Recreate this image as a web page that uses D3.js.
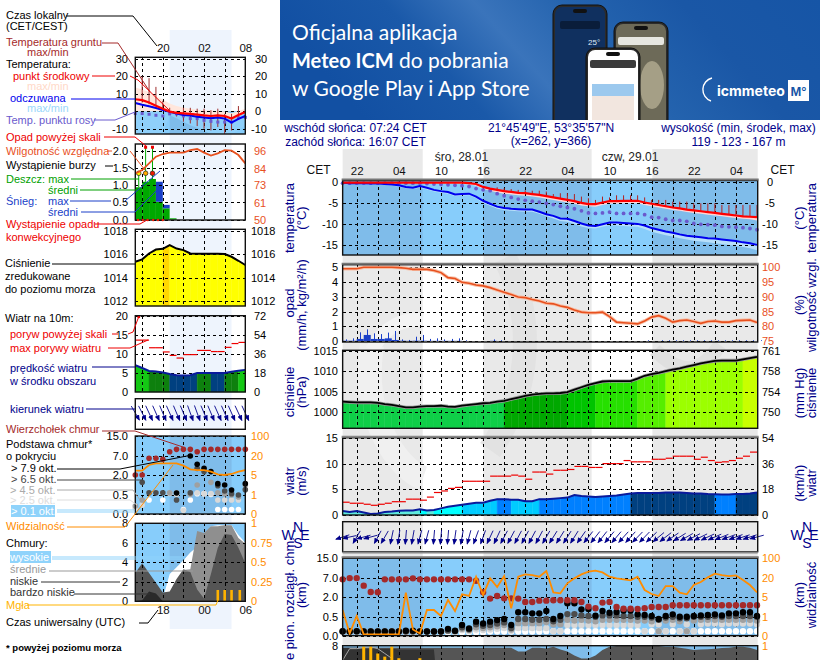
<!DOCTYPE html>
<html lang="pl">
<head>
<meta charset="UTF-8" />
<title>Meteogram ICM</title>
<script src="https://cdnjs.cloudflare.com/ajax/libs/d3/7.8.5/d3.min.js"></script>
<style>
  html, body { margin: 0; padding: 0; background: #fff; overflow: hidden; }
  svg { display: block; font-family: "Liberation Sans", Arial, sans-serif; }
</style>
</head>
<body>
<svg id="chart" width="820" height="660"></svg>
<script>
// ---- main meteogram, one value per hour, hour 0 = Tue 20:00 CET
const tempMid = [-0.1,-0.1,-0.1,-0.1,-0.1,-0.1,-0.1,-0.1,-0.1,-0.1,-0.1,-0.1,-0.1,-0.1,-0.1,-0.1,-0.1,-0.1,-0.2,-0.4,-1.1,-1.5,-1.8,-2.1,-2.3,-2.5,-2.6,-2.8,-3.0,-3.3,-3.6,-3.9,-4.2,-4.5,-4.9,-5.2,-5.2,-4.8,-4.5,-4.5,-4.4,-4.4,-4.4,-4.8,-5.1,-5.4,-5.7,-6.0,-6.2,-6.5,-6.7,-6.9,-7.1,-7.3,-7.5,-7.7,-7.9,-8.1,-8.2,-8.3];
const tempLow = [-0.3,-0.3,-0.3,-0.3,-0.3,-0.3,-0.3,-0.3,-0.3,-0.3,-0.3,-0.3,-0.3,-0.3,-0.3,-0.3,-0.3,-0.4,-0.5,-0.8,-1.6,-2,-2.4,-2.7,-2.9,-3.1,-3.2,-3.4,-3.6,-3.9,-4.2,-4.5,-4.8,-5.1,-5.5,-5.7,-5.8,-5.4,-5.1,-5.1,-5,-5,-5,-5.4,-5.7,-6,-6.3,-6.6,-6.8,-7.1,-7.3,-7.5,-7.7,-7.9,-8.1,-8.3,-8.5,-8.7,-8.8,-9.1];
const feels = [-0.1,-0.2,-0.2,-0.2,-0.3,-0.3,-0.4,-0.5,-0.7,-1.1,-1.3,-0.9,-1.3,-1.8,-2.1,-2.3,-2.9,-2.8,-2.7,-3.4,-4.4,-5.1,-5.8,-6.1,-6.3,-6.4,-6.5,-6.5,-7,-7.6,-8,-8.6,-8.7,-9.2,-9.8,-10.3,-10.4,-10,-9.6,-9.6,-9.7,-9.8,-9.9,-10.3,-10.9,-11.3,-11.7,-12,-12.4,-12.7,-12.9,-13.1,-13.3,-13.4,-13.6,-13.8,-14,-14.3,-14.5,-14.9];
const feelsLow = [-0.3,-0.4,-0.4,-0.4,-0.5,-0.5,-0.6,-0.8,-1,-1.4,-1.6,-1.3,-1.7,-2.2,-2.5,-2.7,-3.3,-3.2,-3.1,-3.8,-4.9,-5.6,-6.3,-6.6,-6.8,-6.9,-7,-7,-7.5,-8.1,-8.6,-9.2,-9.4,-9.9,-10.5,-10.9,-11,-10.6,-10.2,-10.3,-10.4,-10.5,-10.6,-11.1,-11.8,-12.2,-12.6,-12.9,-13.3,-13.6,-13.9,-14.1,-14.3,-14.5,-14.7,-14.9,-15.1,-15.4,-15.7,-16.2];
const dewPoint = [-0.2,-0.2,-0.2,-0.2,-0.2,-0.2,-0.2,-0.2,-0.2,-0.2,-0.2,-0.2,-0.3,-0.4,-0.5,-0.6,-0.7,-0.8,-1,-1.5,-1.8,-2,-2.7,-3.2,-3.6,-4,-4.3,-4.5,-4.7,-5,-5.3,-5.7,-6,-6.3,-6.8,-7.3,-7.4,-7.3,-7.1,-7.4,-7.4,-7.4,-7.4,-7.7,-8.3,-8.4,-8.8,-9.1,-9.1,-9.3,-9.8,-10,-10.1,-10.2,-10.5,-10.6,-10.7,-10.8,-11,-11.3];
const groundMax = [null,null,null,null,null,null,null,null,null,null,null,null,null,null,null,null,null,null,null,null,null,null,-1.2,-1.4,-1.6,-1.8,-1.9,-2,-2,-2.2,-2.8,-2.6,-2.6,-2.8,-3.4,-3.8,-4.2,-3.4,-3.6,-3.1,-3.1,-3.1,-3.1,-3.6,-4.2,-4.2,-4.2,-4.6,-4.6,-4.6,-5,-5,-5,-5,-5.4,-5.4,-5.4,-5.4,-5.4,-5.4];

const snowAvg = [0.02,0.02,0.14,0.41,0.14,0.14,0.18,0.07,0.02,0.01,0.02,0.02,0.01,0.01,0.01,0.01,0.01,0,0,0,0,0.01];
const snowMax = [0.11,0.18,0.59,0.79,0.52,0.47,0.57,0.68,0.11,0.07,0.29,0.41,0.14,0.18,0.11,0.14,0.18,0.05,0,0,0,0.11,0.05,0,0,0,0,0,0,0,0,0,0,0,0,0,0,0,0,0,0,0,0,0.05,0,0.05,0.05,0.05,0.05,0.05,0.05,0.05,0.05,0.05,0.05,0.05,0.05,0.05,0.05,0.05];
const humidity = [99.5,99.5,99.5,100,100,100,100,100,99.9,99.7,99.3,99.3,99.3,98.9,98.2,96.5,96.2,94.9,94.6,94,93.7,93.1,92.3,91.5,90.8,89.9,89.7,89.1,88.6,87.8,87.6,86.9,86.4,85.5,84.8,84.6,84.6,84.8,83.3,81.4,81.2,81,80.8,81.8,83.1,83.6,82.7,81.4,81.9,82.1,81.6,81,81.6,81.8,81.4,81.4,81.9,82,82.1,81.3];

const pressure = [1002.6,1002.5,1002.4,1002.4,1002.4,1002.3,1002.0,1001.8,1001.5,1001.2,1001.2,1001.4,1001.5,1001.5,1001.6,1001.4,1001.3,1001.6,1001.8,1002.0,1002.2,1002.3,1002.6,1002.8,1003.2,1003.6,1004.0,1004.3,1004.5,1004.6,1004.6,1004.7,1004.9,1005.5,1006.1,1006.7,1007.1,1007.5,1007.6,1007.6,1007.6,1007.6,1008.2,1008.9,1009.3,1009.6,1010.0,1010.4,1010.7,1011.1,1011.5,1011.9,1012.2,1012.5,1012.6,1012.6,1012.6,1012.9,1013.2,1013.5];
const pressureSteps = [1002.7,1004.9,1006.8,1008.2,1010,1012.7];
const pressureColors = ["#0fcf48","#00a800","#00c400","#26e000","#55ee00","#9cff00","#c8ff00"];

const windSpeed = [0.8,0.6,0.8,0.5,0.2,0.3,0.6,0.7,0.85,0.9,0.9,1.1,0.9,1,1.3,1.6,1.8,2,2.2,2.4,2.4,2.8,3.1,3.1,3,3,2.7,2.7,3.1,3.1,3.2,3.3,3.4,3.9,3.7,3.6,3.5,3.6,3.7,3.8,4,4.2,4.3,4.3,4.3,4.3,4.4,4.4,4.4,4.3,4.2,4.2,4.1,4.05,4,4,4.1,4.1,4.2,4.4];
const windGust = [2.5,2.3,2.3,2.1,1.9,2.1,2.3,2.6,2.6,3.1,3.1,2.9,3.5,4.4,4.7,5.2,5.4,6.6,6.6,6.6,6.6,7.6,7.6,7.6,7.8,7.6,7,8.4,8.4,8,8.75,8.75,8.9,9.5,9.5,9.3,9.3,10.05,10.05,10.05,10.65,10.4,10.4,10.4,10.9,10.9,11.1,11.5,11.5,11.5,10.9,11.3,10.65,10.3,10.4,10.65,11.1,11.5,12.3];
const windDir = [72,78,30,75,75,28,30,12,8,5,10,15,15,5,5,5,8,10,15,20,20,25,25,28,28,28,28,28,28,30,32,32,32,32,35,38,38,38,40,40,42,42,44,44,46,50,52,55,58,60,62,64,65,66,68,70,70,72,72,75];
const windSteps = [1,2,3.05,4.08];
const windColors = ["#5eeadd","#00ffff","#00ccff","#0080ff","#004080"];

const cloudTop = [6.58,6.9,6.9,4.97,3.36,3.27,6.58,6.58,6.58,6.58,6.83,6.58,6.58,6.58,6.58,6.58,6.58,6.58,6.58,6.24,3.27,1.9,2.34,1.92,1.92,1.9,1.64,1.64,1.74,1.74,1.77,1.77,1.77,1.77,1.64,1.28,1.15,1.59,1.64,1.25,1.12,1.12,1.09,1.15,1.25,1.25,1.25,1.38,1.38,1.38,1.38,1.38,1.38,1.38,1.38,1.38,1.38,1.38,1.38,1.38];
const cloud79 = [0.12,0.11,0.12,0.11,0.11,0.11,0.11,0.11,0.11,0.13,0.13,0.11,0.11,0.11,0.11,0.18,0.13,0.28,0.19,0.37,0.32,0.37,0.41,0.44,0.28,0.84,0.84,0.76,0.76,0.94,0.44,0.55,1.54,1.54,1.07,1.1,0.58,0.94,0.81,0.86,0.97,0.97,0.68,0.63,0.55,0.44,0.55,0.68,0.5,0.5,0.55,0.6,0.63,0.68,0.6,0.76,0.76,0.84,0.84,0.55];
const cloud65 = [0.11,0.11,0.11,0.11,0.11,0.11,0.11,0.11,0.11,0.11,0.11,0.11,0.11,0.11,0.11,0.14,0.12,0.22,0.17,0.3,0.26,0.28,0.32,0.35,0.2,0.44,0.44,0.42,0.42,0.44,0.38,0.42,0.7,0.7,0.6,0.55,0.5,0.6,0.6,0.6,0.55,0.55,0.5,0.5,0.48,0.42,0.48,0.5,0.46,0.46,0.5,0.5,0.5,0.55,0.5,0.55,0.55,0.55,0.55,0.5];
const cloud45 = [0.11,0.11,0.11,0.11,0.11,0.11,0.11,0.11,0.11,0.11,0.11,0.11,0.11,0.11,0.11,0.13,0.12,0.18,0.15,0.22,0.2,0.22,0.25,0.28,0.16,0.33,0.33,0.33,0.33,0.36,0.3,0.3,0.42,0.4,0.42,0.4,0.38,0.42,0.42,0.42,0.42,0.42,0.4,0.4,0.38,0.12,0.4,0.42,0.38,0.12,0.4,0.42,0.42,0.42,0.42,0.42,0.42,0.42,0.42,0.4];
const cloud25 = [0.11,0.11,0.11,0.11,0.11,0.11,0.11,0.11,0.11,0.11,0.11,0.11,0.11,0.11,0.11,0.12,0.11,0.15,0.12,0.16,0.15,0.16,0.18,0.2,0.13,0.2,0.2,0.2,0.2,0.2,0.12,0.12,0.28,0.28,0.28,0.28,0.28,0.28,0.28,0.28,0.28,0.28,0.28,0.12,0.3,0.3,0.12,0.3,0.12,0.3,0.12,0.3,0.32,0.32,0.3,0.32,0.32,0.32,0.32,0.3];
const cloud01 = [0.1,0.1,0.1,0.1,0.1,0.1,0.1,0.1,0.1,0.1,0.1,0.1,0.1,0.1,0.1,0.09,0.1,0.09,0.1,0.09,0.09,0.11,0.11,0.11,0.11,0.11,0.11,0.11,0.11,0.12,0.12,0.12,0.12,0.12,0.12,0.12,0.12,0.12,0.12,0.12,0.12,0.12,0.12,0.12,0.12,0.12,0.12,0.12,0.12,0.12,0.12,0.12,0.12,0.12,0.12,0.12,0.12,0.12,0.12,0.12];
const visibility = [2.38,0.12,1.14,0.07,0.07,0.07,0.07,0.07,0.07,8.56,0.33,0.12,2.38,2.38,1.14,4.45,2.17,7.29,6,24.1,6.78,19.5,12.9,26.9,2.72,24.1,33.8,31,24.1,47.6,8.8,8.05,15.7,19.5,33.8,45,49,42,24.1,19.5,18.7,18,24.1,10.6,7.5,6,13.6,13.6,8.56,7.29,14.4,16.7,21.4,36.5,31,26.9,29.7,18.2,14.4,8.8];

const coverLow = [7.8,7.8,7.8,7.8,7.8,7.8,7.8,7.8,7.8,7.8,7.8,7.8,7.8,7.8,7.8,7.8,7.8,7.8,7.8,7.8,7.8,7.8,7.8,7.8,7.8,7.4,7.4,7.8,7.8,7.72,7.9,7.6,7.4,7,6.7,6.7,7,7.56,7.9,7.96,7.96,7.96,7.96,7.96,7.96,7.96,7.9,7.9,7.8,7.7,7.56,7.6,7.64,7.7,7.76,7.8,7.9,7.9,7.8,7.56];
const coverVeryLow = [7.8,7.8,7.8,7.7,7.7,7.7,7.7,7.7,7.6,7.6,7.6,7.6,7.6,7.6,0];
const coverHigh = [6.5,7.7,7.7,7.8,7.9,7.7,7.2,6.7];
const fogHours = [3,4,5,6,7,8,11];
const fogMain = [0.99,0.99,0.9,0.86,0.99,0.84,0.84];

// ---- short range panel on the left, hour 0 = 16:00 local
const tempMidL = [6.9,6.4,5.0,3.2,1.4,-0.2,-0.9,-1.2,-1.5,-1.9,-2.4,-2.7,-2.3,-2.7,-4.2,-2.2,-0.4];
const tempHighL = [13.6,12.5,11,8.6,6.8,4.5,3,2.2,1.4,0.9,0.4,0.4,0.2,-0.2,-1.2,0.2,1.5];
const tempLowL = [0,0,0,0,0,-0.9,-1.5,-1.8,-2.1,-2.5,-3,-3.3,-2.9,-3.3,-4.8,-2.8,-1];
const feelsL = [4.8,3.8,2.9,1.9,0.7,-0.3,-1.3,-2.1,-2.4,-3.2,-3.6,-4,-3.6,-4.2,-6.5,-4.4,-2.7];
const feelsLowL = [-13,-13,-13,-13,-13,-2.3,-4,-6,-8,-9.5,-11.5,-13,-13,-13,-13,-11,-8];
const dewPointL = [-1.3,-1.3,-1.7,-2.3,-2.7,-1.5,-1.5,-2.7,-4.2,-4.2,-5.2,-5.8,-6.2,-6.2,-6.2,-3.8,-3.5];
const groundMaxL = [null,20,19,14,6,2,0,2,2,1.5,1.5,0.6,1.5,-1.5,-1.5,3,null];
const groundMinL = [null,5,4,3,2,-2,-3,-6,-7,-8.5,-10,-11,-9,-13,-11,-5,null];

const rainAvgL = [0.94,1.1,1.18,0.52,0.33,0.04];
const snowAvgL = [0,0,0,0.58,0.1,0];
const rainMaxL = [1.35,2.1,2.1];
const rainOverL = [0,1,1];
const stormL = [1,2,3];
const stormColors = ["#ffee00","#ffaa00","#ee1c00"];
const convectiveL = [0.4,1.1,1.8,2.6,3.3,4.0];
const humidityL = [80.9,83.1,87.6,92,93.8,94.7,94.7,94.7,96.4,97.1,94.7,92.7,94.2,96.4,96,93.1,87.6];

const pressureL = [1015.38,1015.58,1016.08,1016.42,1016.48,1016.79,1016.5,1016.37,1016.08,1016.05,1016.05,1016.05,1016.05,1016.03,1015.8,1015.46,1015.1];
const windSpeedL = [7,6.3,5.5,5.4,5.1,4.7,4.4,4.3,4.4,5,5,4.95,4.95,5,5.3,5.6,5.8];
const windGustL = [13.6,13.6,11.6,11.6,10.5,9.6,8.9,9.8,9.8,10.9,10.9,10.6,10.6,11.7,12.7,13];
const windDirL = [330,333,335,336,337,336,337,337,340,340,337,337,336,336,336,335,335];

const cloudTopL = [2,2,6.39,6.39,6.12,8.73,9.67,9.67,9.67,8.73,9.67,9.67,9.67,9.67,9.67,9.67,9.67];
const cloud79L = [null,null,null,null,null,null,0.65,null,7,4.8,3.75,2.9,1.35,1.25,0.87,null,1.35];
const cloud65L = [null,1.45,0.66,0.66,0.66,null,0.37,null,0.66,3.75,2.9,null,1.2,0.8,0.6,0.5,0.9];
const cloud45L = [0.21,0.37,null,null,null,0.66,0.66,null,0.55,1.25,null,1.45,0.66,0.6,0.5,0.45,1.25];
const cloud25L = [0.15,0.24,null,null,null,0.62,0.55,0.1,null,0.66,0.6,0.6,0.37,0.37,0.37,0.37,null];
const cloud01L = [null,null,0.37,null,0.37,null,null,0.12,0.37,0.6,0.6,0.55,0.12,0.12,0.12,0.12,null];
const visibilityL = [8.4,8.4,12.9,14.2,14.2,14.2,14.2,12.4,9.5,8.9,8.9,7.6,5.5,5,5.8,7.6,8.9];

const coverHighL = [0,0,0,0,0.3,2.8,3.5,4.2,5,5.6,6.3,7.7,7.8,7.8,7.8,6.8,6];
const coverMidL = [0,0,0,0,0,0,0,3.2,3.3,7.2,7,7.7,7.7,7.8,7.8,6.5,5.9];
const coverLowL = [2.9,3.9,2.9,1.9,0.9,1,2.3,3.3,3,1.2,0.3,2.8,5.5,6.9,6.8,5.5,3.9];
const coverVeryLowL = [0,0.1,1,0.8,0,0,0,0,0,0,0,0,0,0,0,0,0];
const fogHoursL = [12,13,14,15.2];
const fogL = [0.145,0.145,0.145,0.145];

// ---- tick labels
const mainHourTicks = [2,8,14,20,26,32,38,44,50,56];
const mainHourLabels = ["22","04","10","16","22","04","10","16","22","04"];
const leftHourTicks = [4,10,16];
const leftLocalLabels = ["20","02","08"];
const leftUtcLabels = ["18","00","06"];
const heightTicks = [0,0.5,2,7,15];
const heightLabels = ["0.0","0.5","2.0","7.0","15.0"];
const visLabels = ["0","1","5","20","100"];
const pressTicks = [1000,1005,1010,1015];
const pressMmLabels = ["750","754","758","761"];
const windTicks = [0,5,10,15];
const windKmhLabels = ["0","18","36","54"];
const humidLabelsL = ["50","61","73","84","96"];

// ---- colours
const NAVY = "#00008b", ORANGE = "#ff8c00", RH = "#e8501e", DAY = "#87cdfb", NIGHT = "#7fbcea";
const octaColors = ["#ffffff","#d8d8d8","#a0a0a0","#4d4d4d","#000000"];
const TICK_SIZE = 11;

const svg = d3.select("#chart");
const defs = svg.append("defs");
const x = d3.scaleLinear().domain([0, 59.1]).range([342.65, 757.7]);
const xL = d3.scaleLinear().domain([0, 16]).range([135.3, 245.3]);
const crisp = (v) => Math.round(v) + 0.5;
const lineOf = (xs, ys) => d3.line().defined((d) => d !== null).x((d, i) => xs(i)).y((d) => ys(d));

function addText(g, s, px, py, fill, size, anchor, weight) {
  return g.append("text").attr("x", px).attr("y", py).attr("dy", "0.35em")
    .attr("fill", fill || "#000").attr("font-size", size || 11)
    .attr("text-anchor", anchor || "start").attr("font-weight", weight || "normal").text(s);
}

function addAxis(maker, scale, ticks, labels, pos, color) {
  const fmt = labels ? (d, i) => labels[i] : (d) => d;
  const g = svg.append("g").attr("transform", `translate(${pos},0)`)
    .call(maker(scale).tickValues(ticks).tickSize(0).tickPadding(0).tickFormat(fmt));
  g.select(".domain").remove();
  g.selectAll("text").attr("fill", color || "#000").attr("font-size", TICK_SIZE)
    .attr("font-family", '"Liberation Sans", Arial, sans-serif');
  return g;
}

function timeAxis(xs, ticks, labels, py) {
  const g = svg.append("g").attr("transform", `translate(0,${py})`)
    .call(d3.axisTop(xs).tickValues(ticks).tickSize(0).tickPadding(0).tickFormat((d, i) => labels[i]));
  g.select(".domain").remove();
  g.selectAll("text").attr("font-size", 11.5).attr("fill", "#111")
    .attr("font-family", '"Liberation Sans", Arial, sans-serif');
}

function grid(xs, vTicks, yTicks, ys, top, bottom) {
  const g = svg.append("g").attr("stroke", "#000").attr("stroke-dasharray", "3 3").attr("shape-rendering", "crispEdges");
  g.selectAll("line.v").data(vTicks).join("line").attr("class", "v")
    .attr("x1", (d) => crisp(xs(d))).attr("x2", (d) => crisp(xs(d))).attr("y1", top).attr("y2", bottom);
  g.selectAll("line.h").data(yTicks).join("line").attr("class", "h")
    .attr("y1", (d) => crisp(ys(d))).attr("y2", (d) => crisp(ys(d)))
    .attr("x1", xs.range()[0]).attr("x2", xs.range()[1]);
}

function frame(xs, top, bottom, topColor) {
  const [a, b] = xs.range();
  svg.append("rect").attr("x", a).attr("y", top).attr("width", b - a).attr("height", bottom - top)
    .attr("fill", "none").attr("stroke", "#111").attr("stroke-width", 1.4);
  if (topColor) {
    svg.append("line").attr("x1", a - 1).attr("x2", b + 1).attr("y1", top - 1).attr("y2", top - 1)
      .attr("stroke", topColor).attr("stroke-width", 2);
  }
}

// polygon per hour under a line, coloured from a threshold scale
function binnedArea(xs, ys, values, base, colorOf) {
  const area = d3.area().x((d) => xs(d)).y0(base).y1((d) => ys(values[d]));
  svg.append("g").selectAll("path").data(d3.range(values.length - 1)).join("path")
    .attr("d", (i) => area([i, i + 1])).attr("fill", (i) => colorOf(i))
    .attr("stroke", (i) => colorOf(i)).attr("stroke-width", 0.4);
}

function dots(xs, ys, values, color, r, stroke) {
  svg.append("g").selectAll("circle")
    .data(values.map((v, i) => [i, v]).filter((d) => d[1] !== null)).join("circle")
    .attr("cx", (d) => xs(d[0])).attr("cy", (d) => ys(d[1])).attr("r", r)
    .attr("fill", color).attr("stroke", stroke || "none");
}

defs.append("marker").attr("id", "head").attr("viewBox", "0 0 6 5").attr("refX", 5).attr("refY", 2.5)
  .attr("markerWidth", 6).attr("markerHeight", 5).attr("markerUnits", "userSpaceOnUse").attr("orient", "auto")
  .append("path").attr("d", "M0,0L6,2.5L0,5Z").attr("fill", "#00008b");

function arrows(xs, yc, dirs, len) {
  svg.append("g").attr("stroke", "#00008b").attr("stroke-width", 0.9).selectAll("line").data(dirs).join("line")
    .attr("x1", (d, i) => xs(i) + Math.sin(d * Math.PI / 180) * len / 2)
    .attr("y1", (d) => yc - Math.cos(d * Math.PI / 180) * len / 2)
    .attr("x2", (d, i) => xs(i) - Math.sin(d * Math.PI / 180) * len / 2)
    .attr("y2", (d) => yc + Math.cos(d * Math.PI / 180) * len / 2)
    .attr("marker-end", "url(#head)");
}

function vTitle(s, px, py, anchor) {
  svg.append("text").attr("transform", `translate(${px},${py}) rotate(-90)`).attr("text-anchor", anchor || "middle")
    .attr("fill", NAVY).attr("font-size", 13).text(s);
}

function compass(cx) {
  const g = svg.append("g");
  addText(g, "N", cx, 527, NAVY, 14, "middle");
  addText(g, "W", cx - 10, 535, NAVY, 14, "middle");
  addText(g, "E", cx + 7, 535, NAVY, 14, "middle");
  addText(g, "S", cx, 543, NAVY, 14, "middle");
}

// ---- banner
const grad = defs.append("linearGradient").attr("id", "banner").attr("x1", 0).attr("x2", 1).attr("y1", 0.2).attr("y2", 0);
[[0, "#1250a3"], [0.22, "#1a59a9"], [0.38, "#3a74bb"], [0.55, "#2463ae"], [0.75, "#1a57a6"], [1, "#1655a6"]]
  .forEach((s) => grad.append("stop").attr("offset", s[0]).attr("stop-color", s[1]));
defs.append("clipPath").attr("id", "bannerClip").append("rect").attr("x", 280).attr("y", 0).attr("width", 540).attr("height", 120);
const banner = svg.append("g").attr("clip-path", "url(#bannerClip)");
banner.append("rect").attr("x", 280).attr("y", 0).attr("width", 540).attr("height", 120).attr("fill", "url(#banner)");
[["Oficjalna aplikacja", 292, 33, "normal", 21], ["Meteo ICM", 292, 61, "bold", 20], ["do pobrania", 399, 61, "normal", 21], ["w Google Play i App Store", 292, 89, "normal", 21]].forEach((t) => {
  banner.append("text").attr("x", t[1]).attr("y", t[2]).attr("dy", "0.35em").attr("fill", "#fff")
    .style("font-family", "Lato, sans-serif").attr("font-weight", t[3]).attr("font-size", t[4]).text(t[0]);
});
function phone(px, py, w, screen) {
  banner.append("rect").attr("x", px).attr("y", py).attr("width", w).attr("height", 130).attr("rx", 9).attr("fill", "#2b2b2b").attr("stroke", "#111");
  banner.append("rect").attr("x", px + 2).attr("y", py + 2).attr("width", w - 4).attr("height", 130).attr("rx", 7).attr("fill", screen);
  banner.append("rect").attr("x", px + w / 2 - 7).attr("y", py + 4).attr("width", 14).attr("height", 4).attr("rx", 2).attr("fill", "#111");
}
phone(553, 5, 54, "#10305f");
addText(banner, "25°", 588, 42, "#dfe8f5", 8, "start");
banner.append("rect").attr("x", 560).attr("y", 21).attr("width", 40).attr("height", 8).attr("rx", 2).attr("fill", "#0a1d3a");
phone(614, 22, 54, "#6d6a58");
banner.append("rect").attr("x", 618).attr("y", 37).attr("width", 46).attr("height", 8).attr("rx", 2).attr("fill", "#e6e6e0");
banner.append("ellipse").attr("cx", 652).attr("cy", 85).attr("rx", 12).attr("ry", 24).attr("fill", "#a59f86");
phone(586, 48, 54, "#ffffff");
banner.append("rect").attr("x", 590).attr("y", 60).attr("width", 46).attr("height", 8).attr("rx", 2).attr("fill", "#3a3a3a");
banner.append("rect").attr("x", 592).attr("y", 84).attr("width", 42).attr("height", 12).attr("fill", "#9cc9ee");
banner.append("rect").attr("x", 592).attr("y", 96).attr("width", 42).attr("height", 24).attr("fill", "#f2e6df");
banner.append("path").attr("d", "M711,101 A12,12 0 0 1 712,78").attr("fill", "none").attr("stroke", "#fff").attr("stroke-width", 1.4);
banner.append("text").attr("x", 717).attr("y", 91).attr("dy", "0.35em").attr("fill", "#fff")
  .style("font-family", "Inter, sans-serif").attr("font-weight", "bold").attr("font-size", 14).text("icmmeteo");
banner.append("rect").attr("x", 788).attr("y", 80).attr("width", 21).attr("height", 21).attr("fill", "#fff");
banner.append("text").attr("x", 798.5).attr("y", 91).attr("dy", "0.35em").attr("fill", "#1655a6").attr("text-anchor", "middle")
  .attr("font-weight", "bold").attr("font-size", 13).text("M°");

// ---- backgrounds
svg.append("rect").attr("x", xL(5)).attr("width", xL(14) - xL(5)).attr("y", 30).attr("height", 599).attr("fill", "#eef4fd");
const nightRanges = [[0, 11.4], [20.05, 35.45], [44.1, 59.1]];
const dayRanges = [[11.4, 20.05], [35.45, 44.1]];
svg.append("g").selectAll("rect").data(nightRanges).join("rect")
  .attr("x", (d) => x(d[0])).attr("width", (d) => x(d[1]) - x(d[0])).attr("y", 149).attr("height", 511).attr("fill", "#e9e9e9");

// faint watermark behind the panels
const mark = svg.append("g").attr("fill", "none");
mark.append("path").attr("d", "M372,345 C360,420 400,470 423,478").attr("stroke", "#f0f0f0").attr("stroke-width", 24);
mark.append("path").attr("d", "M372,350 C385,325 405,318 423,320").attr("stroke", "#f3f3f3").attr("stroke-width", 14);
mark.append("path").attr("d", "M490,450 C525,400 540,330 505,258").attr("stroke", "#e2e2e2").attr("stroke-width", 24);
mark.append("path").attr("d", "M655,350 C680,375 700,375 720,345").attr("stroke", "#e0e0e0").attr("stroke-width", 14);

// ---- header texts
const head = svg.append("g");
addText(head, "wschód słońca: 07:24 CET", 355.5, 128, NAVY, 12, "middle");
addText(head, "zachód słońca: 16:07 CET", 355.5, 142, NAVY, 12, "middle");
addText(head, "21°45'49\"E, 53°35'57\"N", 551, 128, NAVY, 12, "middle");
addText(head, "(x=262,  y=366)", 551, 141, NAVY, 12, "middle");
addText(head, "wysokość (min, środek, max)", 738.5, 128, NAVY, 12, "middle");
addText(head, "119 - 123 - 167 m", 738.5, 142, NAVY, 12, "middle");
addText(head, "śro, 28.01", 461.5, 157, "#222", 12, "middle");
addText(head, "czw, 29.01", 630, 157, "#222", 12, "middle");
addText(head, "CET", 318.5, 170, "#111", 12, "middle");
addText(head, "CET", 782.5, 170, "#111", 12, "middle");
timeAxis(x, mainHourTicks, mainHourLabels, 175);

const gridHours = d3.range(2, 60, 3);
const hrs = (a) => a.map((_, i) => i);

// ---- temperature
const yT = d3.scaleLinear().domain([0, -15]).range([182.3, 245.3]);
const tempTop = 180.5, tempBottom = 255;
defs.append("clipPath").attr("id", "clipT").append("rect").attr("x", x(0)).attr("y", tempTop).attr("width", 415).attr("height", tempBottom - tempTop);
const tempLayer = svg.append("g").attr("clip-path", "url(#clipT)");
tempLayer.append("rect").attr("x", x(0)).attr("width", 415.05).attr("y", tempTop).attr("height", tempBottom - tempTop).attr("fill", NIGHT);
tempLayer.selectAll("rect.d").data(dayRanges).join("rect").attr("class", "d")
  .attr("x", (d) => x(d[0])).attr("width", (d) => x(d[1]) - x(d[0])).attr("y", tempTop).attr("height", tempBottom - tempTop).attr("fill", DAY);
tempLayer.append("path").datum(hrs(tempMid)).attr("fill", "#ffd5d5")
  .attr("d", d3.area().x((d) => x(d)).y0((d) => yT(tempLow[d])).y1((d) => yT(tempMid[d])));
tempLayer.append("path").datum(hrs(feels)).attr("fill", "#b8dffa")
  .attr("d", d3.area().x((d) => x(d)).y0((d) => yT(feelsLow[d])).y1((d) => yT(feels[d])));
grid(x, gridHours, [0, -5, -10, -15], yT, tempTop, tempBottom);
svg.append("g").attr("stroke", "#b22222").attr("stroke-width", 1).selectAll("line")
  .data(hrs(groundMax).filter((i) => groundMax[i] !== null)).join("line")
  .attr("x1", (i) => x(i)).attr("x2", (i) => x(i)).attr("y1", (i) => yT(groundMax[i])).attr("y2", (i) => yT(tempMid[i]));
dots(x, yT, dewPoint, "#6a5acd", 1.9);
svg.append("path").datum(feels).attr("fill", "none").attr("stroke", "#0000ee").attr("stroke-width", 2).attr("d", lineOf(x, yT));
svg.append("path").datum(tempMid).attr("fill", "none").attr("stroke", "#ff0000").attr("stroke-width", 2.2).attr("d", lineOf(x, yT));
frame(x, tempTop, tempBottom, "#777");
addAxis(d3.axisLeft, yT, [0, -5, -10, -15], null, 338);
addAxis(d3.axisRight, yT, [0, -5, -10, -15], null, 770).selectAll("text").attr("text-anchor", "middle");
vTitle("temperatura", 294, 218); vTitle("(°C)", 306, 218);
vTitle("(°C)", 804, 218); vTitle("temperatura", 816, 218);

// ---- precipitation and humidity
const yPr = d3.scaleLinear().domain([0, 5]).range([341, 267.3]);
const yRh = d3.scaleLinear().domain([75, 100]).range([341, 267.3]);
const prTop = 264.7, prBottom = 342;
grid(x, gridHours, [0, 1, 2, 3, 4, 5], yPr, prTop, prBottom);
svg.append("g").attr("fill", "#1a3fc8").selectAll("rect").data(snowAvg).join("rect")
  .attr("x", (d, i) => x(i)).attr("width", x(1) - x(0)).attr("y", (d) => yPr(d)).attr("height", (d) => yPr(0) - yPr(d));
svg.append("g").attr("stroke", "#1a3fc8").selectAll("line").data(snowMax).join("line")
  .attr("x1", (d, i) => crisp(x(i + 0.5))).attr("x2", (d, i) => crisp(x(i + 0.5))).attr("y1", (d) => yPr(d)).attr("y2", yPr(0));
svg.append("path").datum(humidity).attr("fill", "none").attr("stroke", "#f7c0a8").attr("stroke-width", 3.5).attr("d", lineOf(x, yRh));
svg.append("path").datum(humidity).attr("fill", "none").attr("stroke", RH).attr("stroke-width", 1.6).attr("d", lineOf(x, yRh));
frame(x, prTop, prBottom, "#777");
addAxis(d3.axisLeft, yPr, [0, 1, 2, 3, 4, 5], null, 338);
addAxis(d3.axisRight, yRh, [75, 80, 85, 90, 95, 100], null, 762, RH);
vTitle("opad", 294, 303); vTitle("(mm/h, kg/m²/h)", 306, 305);
vTitle("(%)", 804, 305); vTitle("wilgotność wzgl.", 816, 305);

// ---- pressure
const yP = d3.scaleLinear().domain([1000, 1015]).range([412.3, 350.7]);
const pTop = 350.3, pBottom = 428.3;
const pColor = d3.scaleThreshold().domain(pressureSteps).range(pressureColors);
binnedArea(x, yP, pressure, pBottom, (i) => pColor(pressure[i]));
grid(x, gridHours, pressTicks, yP, pTop, pBottom);
svg.append("path").datum(pressure).attr("fill", "none").attr("stroke", "#999").attr("stroke-width", 3.4).attr("d", lineOf(x, yP));
svg.append("path").datum(pressure).attr("fill", "none").attr("stroke", "#000").attr("stroke-width", 1.8).attr("d", lineOf(x, yP));
frame(x, pTop, pBottom);
addAxis(d3.axisLeft, yP, pressTicks, null, 338);
addAxis(d3.axisRight, yP, pressTicks, pressMmLabels, 762);
vTitle("ciśnienie", 294, 392); vTitle("(hPa)", 306, 392);
vTitle("(mm Hg)", 804, 393); vTitle("ciśnienie", 816, 393);

// ---- wind
const yW = d3.scaleLinear().domain([0, 15]).range([515, 438.3]);
const wTop = 437.7, wBottom = 515;
const wColor = d3.scaleThreshold().domain(windSteps).range(windColors);
binnedArea(x, yW, windSpeed, wBottom, (i) => wColor(windSpeed[i]));
grid(x, gridHours, windTicks, yW, wTop, wBottom);
svg.append("g").attr("stroke", "#ee0000").attr("stroke-width", 1.2).selectAll("line").data(windGust).join("line")
  .attr("x1", (d, i) => x(i)).attr("x2", (d, i) => x(i + 1)).attr("y1", (d) => yW(d)).attr("y2", (d) => yW(d));
svg.append("path").datum(windSpeed).attr("fill", "none").attr("stroke", "#0a1a9c").attr("stroke-width", 2).attr("d", lineOf(x, yW));
frame(x, wTop, wBottom, "#888");
addAxis(d3.axisLeft, yW, windTicks, null, 338);
addAxis(d3.axisRight, yW, windTicks, windKmhLabels, 762);
vTitle("wiatr", 294, 481); vTitle("(m/s)", 306, 481);
vTitle("(km/h)", 804, 483); vTitle("wiatr", 816, 483);

// ---- wind direction
grid(x, gridHours, [], yW, 521.7, 551.7);
arrows(x, 537, windDir, 14);
frame(x, 521.7, 551.7);
svg.append("line").attr("x1", x(0)).attr("x2", x(59.1)).attr("y1", 552.5).attr("y2", 552.5).attr("stroke", "#888").attr("stroke-width", 2);
compass(298); compass(807);

// ---- cloud base
function cloudBg(xs, ranges, top, bottom) {
  const [a, b] = xs.range();
  svg.append("rect").attr("x", a).attr("width", b - a).attr("y", top).attr("height", bottom - top).attr("fill", NIGHT);
  svg.append("g").selectAll("rect").data(ranges).join("rect").attr("x", (d) => xs(d[0])).attr("width", (d) => xs(d[1]) - xs(d[0]))
    .attr("y", top).attr("height", bottom - top).attr("fill", DAY);
}
const yC = d3.scaleLinear().domain(heightTicks).range([635.7, 616.7, 597.3, 577.7, 558.3]);
const yV = d3.scaleLinear().domain([0, 1, 5, 20, 100]).range([635.7, 616.7, 597.3, 577.7, 558.3]);
const cTop = 558.3, cBottom = 635.7;
cloudBg(x, dayRanges, cTop, cBottom);
grid(x, gridHours, heightTicks, yC, cTop, cBottom);
[cloud01, cloud25, cloud45, cloud65, cloud79].forEach((row, i) => dots(x, yC, row, octaColors[i], 3.2));
dots(x, yC, cloudTop, "#a52a2a", 3.2);
svg.append("path").datum(visibility).attr("fill", "none").attr("stroke", ORANGE).attr("stroke-width", 1.8).attr("d", lineOf(x, yV));
frame(x, cTop, cBottom, "#777");
addAxis(d3.axisLeft, yC, heightTicks, heightLabels, 338);
addAxis(d3.axisRight, yC, heightTicks, visLabels, 762, ORANGE);
vTitle("e pion. rozciągł. chm.", 294, 660, "start"); vTitle("(km)", 306, 595);
vTitle("(km)", 804, 595); vTitle("widzialność", 816, 595);

// ---- cloud cover, only the top of this panel fits in the window
const yO = d3.scaleLinear().domain([0, 8]).range([723.7, 645.7]);
const yF = d3.scaleLinear().domain([0, 1]).range([723.7, 645.7]);
cloudBg(x, dayRanges, 645.7, 660);
const fillCover = (xs, ys, values, color, base) => svg.append("path").datum(values).attr("fill", color)
  .attr("d", d3.area().x((d, i) => xs(i)).y0(base).y1((d) => ys(d)));
fillCover(x, yO, coverLow, "#555", 723);
fillCover(x, yO, coverVeryLow, "#333", 723);
grid(x, gridHours, [], yO, 645.7, 660);
svg.append("path").datum(coverHigh).attr("fill", "none").attr("stroke", "#a8a8a8").attr("d", lineOf(x, yO));
svg.append("g").attr("fill", "#ffb300").selectAll("rect").data(fogMain).join("rect")
  .attr("x", (d, i) => x(fogHours[i]) - 1.5).attr("width", 3).attr("y", (d) => yF(d)).attr("height", (d) => yF(0) - yF(d));
frame(x, 645.7, 723.7);
addAxis(d3.axisLeft, yO, [8], null, 338);
addAxis(d3.axisRight, yF, [1], null, 762, ORANGE);

// ---- left column ----
const gridHoursL = d3.range(1, 17, 3);
timeAxis(xL, leftHourTicks, leftLocalLabels, 52);

// temperature
const yTL = d3.scaleLinear().domain([-10, 30]).range([128.7, 59]);
const tTopL = 57.3, tBotL = 134;
const dayL = [[0, 5], [14, 16]];
defs.append("clipPath").attr("id", "clipTL").append("rect").attr("x", 135.3).attr("y", tTopL).attr("width", 110).attr("height", tBotL - tTopL);
const tL = svg.append("g").attr("clip-path", "url(#clipTL)");
tL.append("rect").attr("x", 135.3).attr("width", 110).attr("y", yTL(0)).attr("height", tBotL - yTL(0)).attr("fill", NIGHT);
tL.selectAll("rect.d").data(dayL).join("rect").attr("class", "d").attr("x", (d) => xL(d[0])).attr("width", (d) => xL(d[1]) - xL(d[0]))
  .attr("y", yTL(0)).attr("height", tBotL - yTL(0)).attr("fill", DAY);
tL.append("path").datum(hrs(feelsL)).attr("fill", "#8fd0fa")
  .attr("d", d3.area().x((d) => xL(d)).y0((d) => yTL(feelsLowL[d])).y1((d) => yTL(Math.min(feelsL[d], 0))));
tL.append("path").datum(hrs(tempMidL)).attr("fill", "#ffe6dc")
  .attr("d", d3.area().x((d) => xL(d)).y0((d) => yTL(tempLowL[d])).y1((d) => yTL(tempHighL[d])));
grid(xL, gridHoursL, [30, 20, 10, 0, -10], yTL, tTopL, tBotL);
svg.append("g").attr("stroke", "#a03030").attr("stroke-width", 1).selectAll("line")
  .data(hrs(groundMaxL).filter((i) => groundMaxL[i] !== null)).join("line")
  .attr("x1", (i) => xL(i)).attr("x2", (i) => xL(i)).attr("y1", (i) => yTL(groundMaxL[i])).attr("y2", (i) => yTL(groundMinL[i]));
svg.append("g").attr("fill", "#6a5acd").selectAll("rect").data(dewPointL).join("rect")
  .attr("x", (d, i) => xL(i) - 1.5).attr("y", (d) => yTL(d) - 1.5).attr("width", 3).attr("height", 3);
svg.append("path").datum(feelsL).attr("fill", "none").attr("stroke", "#0000ee").attr("stroke-width", 2).attr("d", lineOf(xL, yTL));
svg.append("path").datum(tempMidL).attr("fill", "none").attr("stroke", "#ff0000").attr("stroke-width", 2.2).attr("d", lineOf(xL, yTL));
frame(xL, tTopL, tBotL);
addAxis(d3.axisLeft, yTL, [30, 20, 10, 0, -10], null, 128);
addAxis(d3.axisRight, yTL, [30, 20, 10, 0, -10], null, 255)
  .selectAll("text").attr("dx", (d) => (d < 0 ? -4 : 0));

// precipitation
const yPL = d3.scaleLinear().domain([0, 2]).range([219.7, 150.7]);
const yRL = d3.scaleLinear().domain([50, 96]).range([219.7, 150.7]);
const prTopL = 144, prBotL = 220;
svg.append("g").attr("fill", "#00a800").selectAll("rect").data(rainAvgL).join("rect")
  .attr("x", (d, i) => xL(i)).attr("width", xL(1) - xL(0)).attr("y", (d) => yPL(d)).attr("height", (d) => yPL(0) - yPL(d));
svg.append("g").attr("fill", "#1a3fc8").selectAll("rect").data(snowAvgL).join("rect")
  .attr("x", (d, i) => xL(i)).attr("width", xL(1) - xL(0)).attr("y", (d, i) => yPL(rainAvgL[i] + d)).attr("height", (d) => yPL(0) - yPL(d));
grid(xL, gridHoursL, [0, 0.5, 1, 1.5, 2], yPL, prTopL, prBotL);
svg.append("g").attr("stroke", "#00a800").selectAll("line").data(rainMaxL).join("line")
  .attr("x1", (d, i) => xL(i + 0.5)).attr("x2", (d, i) => xL(i + 0.5)).attr("y1", (d) => yPL(d)).attr("y2", (d, i) => yPL(rainAvgL[i]));
svg.append("g").attr("fill", "#ee0000").selectAll("rect").data(rainOverL.map((v, i) => [v, i]).filter((d) => d[0])).join("rect")
  .attr("x", (d) => xL(d[1] + 0.5) - 1.5).attr("y", (d) => yPL(rainMaxL[d[1]]) - 1.5).attr("width", 3).attr("height", 3);
svg.append("g").selectAll("circle").data(stormL).join("circle").attr("cx", (d, i) => xL(i + 0.5)).attr("cy", 173.3).attr("r", 2.3)
  .attr("fill", (d) => stormColors[d - 1]).attr("stroke", "#222").attr("stroke-width", 0.7);
svg.append("path").datum(humidityL).attr("fill", "none").attr("stroke", RH).attr("stroke-width", 1.8).attr("d", lineOf(xL, yRL));
frame(xL, prTopL, prBotL);
svg.append("g").attr("fill", "#ee1c00").selectAll("circle").data(convectiveL).join("circle")
  .attr("cx", (d) => xL(d)).attr("cy", 220).attr("r", 1.2);
addAxis(d3.axisLeft, yPL, [0, 0.5, 1, 1.5, 2], ["0.0", "0.5", "1.0", "1.5", "2.0"], 128);
addAxis(d3.axisRight, yRL, [50, 61, 73, 84, 96], humidLabelsL, 254, RH);

// pressure
const yPrL = d3.scaleLinear().domain([1012, 1018]).range([301.3, 231]);
const pTopL = 229.3, pBotL = 306;
const pColorL = d3.scaleThreshold().domain([1016.7]).range(["#ffff00", "#ffd700"]);
binnedArea(xL, yPrL, pressureL, pBotL, (i) => pColorL(pressureL[i + 1]));
grid(xL, gridHoursL, [1012, 1014, 1016, 1018], yPrL, pTopL, pBotL);
svg.append("path").datum(pressureL).attr("fill", "none").attr("stroke", "#000").attr("stroke-width", 2).attr("d", lineOf(xL, yPrL));
frame(xL, pTopL, pBotL);
addAxis(d3.axisLeft, yPrL, [1012, 1014, 1016, 1018], null, 128);
addAxis(d3.axisRight, yPrL, [1012, 1014, 1016, 1018], null, 251);

// wind
const yWL = d3.scaleLinear().domain([0, 20]).range([392, 315.7]);
const wTopL = 315.7, wBotL = 392;
const wColorL = d3.scaleThreshold().domain([5, 5.55]).range(["#004080", "#0e800e", "#14c814"]);
binnedArea(xL, yWL, windSpeedL, wBotL, (i) => wColorL(windSpeedL[i]));
grid(xL, [1, 4, 7, 10, 13, 16], [5, 10, 15, 20], yWL, wTopL, wBotL);
svg.append("g").attr("stroke", "#ee0000").attr("stroke-width", 1.2).selectAll("line").data(windGustL).join("line")
  .attr("x1", (d, i) => xL(i)).attr("x2", (d, i) => xL(i + 1)).attr("y1", (d) => yWL(d)).attr("y2", (d) => yWL(d));
svg.append("circle").attr("cx", xL(0.5)).attr("cy", wTopL + 1).attr("r", 1.5).attr("fill", "#ee0000");
svg.append("path").datum(windSpeedL).attr("fill", "none").attr("stroke", "#0a1a9c").attr("stroke-width", 2).attr("d", lineOf(xL, yWL));
frame(xL, wTopL, wBotL);
addAxis(d3.axisLeft, yWL, windTicks.concat(20), ["0", "5", "10", "15", "20"], 128);
addAxis(d3.axisRight, yWL, windTicks.concat(20), ["0", "18", "36", "54", "72"], 254);

// wind direction
grid(xL, gridHoursL, [], yWL, 398.7, 429.3);
arrows(xL, 413, windDirL, 16);
frame(xL, 398.7, 429.3);

// cloud base
const yCL = d3.scaleLinear().domain(heightTicks).range([514, 495, 475, 456, 436]);
const yVL = d3.scaleLinear().domain([0, 1, 5, 20, 100]).range([514, 495, 475, 456, 436]);
cloudBg(xL, [[0, 5], [14, 16]], 436, 514);
grid(xL, gridHoursL, heightTicks, yCL, 436, 514);
[cloud01L, cloud25L, cloud45L, cloud65L, cloud79L].forEach((row, i) => dots(xL, yCL, row, octaColors[i], 2.8));
dots(xL, yCL, cloudTopL, "#a52a2a", 2.8);
svg.append("path").datum(visibilityL).attr("fill", "none").attr("stroke", ORANGE).attr("stroke-width", 1.8).attr("d", lineOf(xL, yVL));
frame(xL, 436, 514);
addAxis(d3.axisLeft, yCL, heightTicks, heightLabels, 128);
addAxis(d3.axisRight, yCL, heightTicks, visLabels, 251, ORANGE);

// cloud cover
const yOL = d3.scaleLinear().domain([0, 8]).range([601.3, 523.3]);
const yFL = d3.scaleLinear().domain([0, 1]).range([601.3, 523.3]);
cloudBg(xL, [[0, 5], [14, 16]], 523.3, 601.3);
fillCover(xL, yOL, coverHighL, "#ffffff", 601.3);
fillCover(xL, yOL, coverMidL, "#8f8f8f", 601.3);
fillCover(xL, yOL, coverLowL, "#555555", 601.3);
fillCover(xL, yOL, coverVeryLowL, "#2a2a2a", 601.3);
grid(xL, gridHoursL, [2, 4, 6, 8], yOL, 523.3, 601.3);
svg.append("g").attr("fill", "#ffb300").selectAll("rect").data(fogL).join("rect")
  .attr("x", (d, i) => xL(fogHoursL[i]) - 1.3).attr("width", 2.6).attr("y", (d) => yFL(d)).attr("height", (d) => yFL(0) - yFL(d));
frame(xL, 523.3, 601.3);
addAxis(d3.axisLeft, yOL, [0, 2, 4, 6, 8], null, 128);
addAxis(d3.axisRight, yFL, [0, 0.25, 0.5, 0.75, 1], ["0", "0.25", "0.5", "0.75", "1"], 251, ORANGE);
timeAxis(xL, leftHourTicks, leftUtcLabels, 614);

// ---- legend labels and leader lines
const legend = svg.append("g");
const BROWN = "#a52a2a", RED = "#ee0000", GREEN = "#00a000", BLUE = "#1a3fc8", SKY = "#8fd3fb";
legend.append("rect").attr("x", 11).attr("y", 505).attr("width", 44).attr("height", 12).attr("fill", SKY);
legend.append("rect").attr("x", 10).attr("y", 551).attr("width", 41).attr("height", 12).attr("fill", SKY);
const legendRows = [
  ["Czas lokalny", 6, 15, "#000"], ["(CET/CEST)", 6, 26, "#000"],
  ["Temperatura gruntu", 6, 42, BROWN], ["max/min", 27, 52, BROWN],
  ["Temperatura:", 6, 64, "#000"], ["punkt środkowy", 13, 76, RED], ["max/min", 27, 86, "#ffd9c8"],
  ["odczuwana", 10, 98, "#0000ee"], ["max/min", 27, 108, "#9ad8fb"], ["Temp. punktu rosy", 6, 120, "#6a5acd"],
  ["Opad powyżej skali", 6, 137.5, RED], ["Wilgotność względna", 6, 151, RH], ["Wystąpienie burzy", 6, 165.5, "#000"],
  ["Deszcz: max", 6, 179, GREEN], ["średni", 48, 190, GREEN], ["Śnieg:", 6, 201, BLUE], ["max", 48, 201, BLUE], ["średni", 48, 212, BLUE],
  ["Wystąpienie opadu", 6, 224, RED], ["konwekcyjnego", 6, 237, RED],
  ["Ciśnienie", 5, 263, "#000"], ["zredukowane", 5, 276, "#000"], ["do poziomu morza", 5, 289, "#000"],
  ["Wiatr na 10m:", 5, 318, "#000"], ["poryw powyżej skali", 10, 334, RED], ["max porywy wiatru", 10, 348, RED],
  ["prędkość wiatru", 10, 368, NAVY], ["w środku obszaru", 10, 381, NAVY], ["kierunek wiatru", 10, 409, NAVY],
  ["Wierzchołek chmur", 6, 429.5, BROWN], ["Podstawa chmur*", 6, 444.5, "#000"], ["o pokryciu", 6, 456, "#000"],
  ["> 7.9 okt.", 11, 468, "#000"], ["> 6.5 okt.", 11, 479.5, "#444"], ["> 4.5 okt.", 10, 490, "#aaa"], ["> 2.5 okt.", 10, 500, "#ddd"], ["> 0.1 okt.", 11, 511, "#fff"],
  ["Widzialność", 6, 526, ORANGE], ["Chmury:", 6, 543, "#000"], ["wysokie", 10, 557, "#fff"], ["średnie", 10, 569, "#999"], ["niskie", 10, 581, "#333"], ["bardzo niskie", 10, 592, "#333"],
  ["Mgła", 6, 605, "#ffb300"], ["Czas uniwersalny (UTC)", 6, 622, "#000"]
];
legendRows.forEach((r) => addText(legend, r[0], r[1], r[2], r[3], 11));
addText(legend, "* powyżej poziomu morza", 6, 648, "#000", 9.5, "start", "bold");

const leaders = [
  ["M66,16L133,16L157,46", "#000"], ["M102,43L118,43L150,92", BROWN], ["M92,76L115,76", RED], ["M130,76L138,80L170,111", RED],
  ["M71,99L135,99", "#0000ee"], ["M94,120L115,120", "#6a5acd"], ["M115,120L135,112", "#6a5acd"],
  ["M104,137L135,137L146,146", RED], ["M107,151L112,151", RH], ["M130,151L145,170", RH], ["M105,166L113,166", "#000"], ["M128,166L134,170", "#000"],
  ["M71,179L139,179", GREEN], ["M80,190L140,190", GREEN], ["M70,201L111,201", BLUE], ["M125,201L160,171", BLUE], ["M81,212L135,212L160,187", BLUE],
  ["M95,224L140,224L147,220", RED], ["M52,264L135,264", "#000"],
  ["M112,334L118,334", RED], ["M128,334L133,332L139,316", RED], ["M108,348L130,348L148,340", RED], ["M92,367L135,367", NAVY], ["M86,409L135,409", NAVY],
  ["M102,431L135,431L183,447", BROWN], ["M57,469L120,469L192,455", "#000"], ["M57,480L143,480", "#444"], ["M57,490L133,490L140,500", "#aaa"], ["M57,500L130,500L137,505", "#ddd"],
  ["M57,510L135,510", SKY], ["M57,512L135,512", SKY], ["M67,527L125,527L173,465", ORANGE],
  ["M52,557L185,557", SKY], ["M52,559L185,559", SKY], ["M49,571L193,571", "#999"], ["M41,582L120,582", "#333"], ["M74,594L150,594", "#333"],
  ["M27,605L216,605L218,600", "#ffb300"], ["M139,623L148,623L158,610", "#000"]
];
svg.append("g").attr("fill", "none").selectAll("path").data(leaders).join("path")
  .attr("d", (d) => d[0]).attr("stroke", (d) => d[1]).attr("stroke-width", 1);
</script>
</body>
</html>
